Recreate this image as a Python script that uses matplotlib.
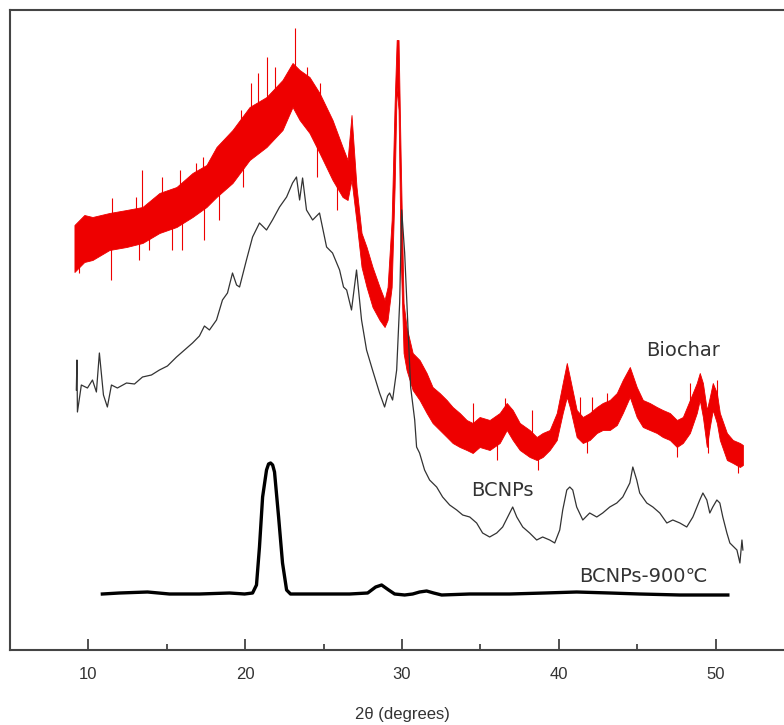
import numpy as np
import matplotlib
matplotlib.use('Agg')
from matplotlib import pyplot as plt
from matplotlib.ticker import MultipleLocator

# --- Biochar (red, noisy pattern): dense core band of the trace ---
biochar_x = [9.11, 9.74, 10.26, 11.34, 12.43, 13.45, 14.53, 15.62, 16.64, 17.53,
             18.17, 19.19, 20.28, 21.36, 22.38, 23.02, 23.47, 24.10, 24.74, 25.57,
             26.21, 26.53, 26.78, 27.10, 27.42, 27.74, 28.12, 28.57, 28.89, 29.08,
             29.34, 29.53, 29.66, 29.78, 29.91, 30.10, 30.29, 30.68, 31.12, 31.57,
             31.95, 32.40, 32.85, 33.23, 33.68, 34.12, 34.51, 34.95, 35.59, 36.23,
             36.68, 37.06, 37.51, 38.14, 38.59, 38.97, 39.42, 39.87, 40.25, 40.51,
             40.70, 41.14, 41.53, 41.97, 42.42, 42.80, 43.25, 43.70, 44.08, 44.53,
             44.97, 45.36, 45.80, 46.25, 46.63, 47.08, 47.53, 47.91, 48.36, 48.80,
             48.99, 49.19, 49.44, 49.63, 49.82, 50.08, 50.27, 50.72, 51.10, 51.55, 51.74]
biochar_hi = [425, 435, 433, 437, 440, 443, 457, 463, 477, 485,
              503, 520, 543, 553, 570, 587, 580, 573, 557, 530,
              503, 490, 535, 463, 417, 403, 383, 363, 350, 363,
              430, 547, 610, 610, 497, 347, 323, 297, 290, 277,
              263, 257, 250, 243, 237, 230, 227, 233, 230, 237,
              247, 240, 227, 220, 213, 217, 220, 237, 267, 287,
              273, 240, 233, 237, 243, 247, 250, 257, 270, 283,
              263, 250, 247, 243, 240, 237, 230, 233, 250, 267,
              277, 267, 240, 253, 267, 257, 237, 217, 210, 207, 205]
biochar_lo = [378, 388, 390, 400, 403, 407, 417, 423, 433, 443,
              453, 467, 490, 503, 520, 543, 530, 517, 497, 470,
              453, 450, 470, 428, 383, 363, 343, 330, 323, 330,
              363, 463, 563, 540, 397, 297, 280, 260, 250, 237,
              227, 220, 213, 207, 203, 200, 197, 203, 200, 207,
              220, 210, 200, 193, 190, 193, 200, 210, 237, 253,
              243, 213, 207, 210, 217, 220, 220, 225, 237, 253,
              233, 223, 220, 217, 213, 210, 203, 207, 217, 237,
              250, 233, 203, 223, 240, 227, 210, 190, 187, 183, 185]

# single counts sticking out of the band (position, start, end)
spike_x = [11.53, 13.06, 13.45, 14.72, 15.81, 16.89, 17.28, 19.76, 20.40, 20.79,
           21.36, 21.87, 23.15, 23.91, 24.74, 34.51, 36.55, 38.27, 41.33, 42.10,
           43.06, 48.36, 50.08,
           9.43, 11.47, 13.25, 13.89, 15.36, 16.00, 17.40, 18.36, 19.83, 24.55,
           25.83, 36.04, 38.65, 41.78, 47.53, 49.50, 51.42]
spike_from = [420, 425, 425, 440, 445, 455, 465, 510, 515, 525,
              530, 540, 560, 550, 530, 210, 230, 205, 225, 225,
              235, 235, 240,
              400, 420, 425, 425, 440, 445, 465, 475, 495, 525,
              485, 220, 205, 220, 215, 220, 195]
spike_to = [452, 453, 480, 473, 480, 487, 493, 540, 567, 577,
            593, 583, 622, 583, 567, 247, 252, 240, 253, 253,
            257, 267, 270,
            377, 370, 390, 400, 400, 400, 410, 430, 463, 473,
            440, 190, 180, 197, 193, 197, 177]

# --- BCNPs (thin dark trace) ---
bcnps_x = [9.23, 9.27, 9.30, 9.55, 9.94, 10.26, 10.51, 10.70, 10.96, 11.21,
           11.47, 11.85, 12.43, 12.94, 13.45, 14.02, 14.53, 15.04, 15.62, 16.13,
           16.64, 17.08, 17.40, 17.72, 18.17, 18.55, 18.87, 19.19, 19.45, 19.64,
           20.08, 20.47, 20.91, 21.36, 21.74, 22.19, 22.64, 23.02, 23.27, 23.47,
           23.66, 23.91, 24.30, 24.74, 25.19, 25.57, 26.02, 26.27, 26.47, 26.78,
           27.10, 27.42, 27.74, 28.12, 28.57, 28.89, 29.08, 29.21, 29.40, 29.66,
           29.85, 29.98, 30.17, 30.36, 30.55, 30.81, 30.93, 31.12, 31.44, 31.76,
           32.21, 32.59, 33.04, 33.49, 33.87, 34.32, 34.76, 35.14, 35.59, 36.04,
           36.42, 36.87, 37.06, 37.32, 37.70, 38.14, 38.59, 38.97, 39.42, 39.74,
           40.06, 40.25, 40.51, 40.70, 40.89, 41.14, 41.53, 41.97, 42.42, 42.80,
           43.25, 43.70, 44.08, 44.53, 44.72, 44.97, 45.16, 45.61, 46.00, 46.44,
           46.89, 47.27, 47.72, 48.16, 48.55, 48.99, 49.19, 49.44, 49.63, 49.82,
           50.08, 50.27, 50.46, 50.72, 50.91, 51.36, 51.55, 51.68, 51.74]
bcnps_y = [260, 290, 238, 265, 262, 270, 258, 297, 255, 243,
           265, 262, 267, 266, 273, 275, 280, 284, 293, 300,
           307, 314, 324, 320, 330, 350, 357, 377, 365, 363,
           390, 413, 427, 420, 430, 443, 453, 467, 473, 450,
           472, 440, 430, 437, 403, 397, 380, 363, 360, 340,
           380, 330, 300, 280, 257, 243, 254, 257, 250, 280,
           347, 440, 397, 330, 263, 230, 203, 197, 180, 170,
           163, 153, 145, 140, 135, 133, 127, 117, 113, 117,
           123, 137, 143, 133, 123, 117, 110, 113, 110, 107,
           120, 140, 160, 163, 160, 143, 130, 137, 133, 137,
           143, 147, 153, 167, 183, 170, 157, 147, 143, 137,
           127, 130, 127, 123, 133, 150, 157, 150, 137, 143,
           150, 147, 133, 117, 107, 100, 87, 110, 100]

# --- BCNPs-900°C (thick black trace) ---
b900_x = [10.89, 11.98, 13.77, 15.17, 17.08, 19.00, 19.96, 20.47, 20.72, 20.91,
          21.11, 21.36, 21.49, 21.62, 21.75, 21.87, 22.13, 22.38, 22.64, 22.89,
          24.74, 26.66, 27.81, 28.32, 28.70, 29.15, 29.53, 30.17, 30.68, 31.12,
          31.57, 32.02, 32.53, 34.32, 36.87, 39.10, 41.14, 43.25, 45.16, 47.72,
          49.63, 50.78]
b900_y = [56, 57, 58, 56, 56, 57, 56, 57, 65, 103,
          153, 180, 186, 187, 185, 178, 133, 87, 60, 56,
          56, 56, 57, 63, 65, 60, 56, 55, 56, 58,
          59, 57, 55, 56, 56, 57, 58, 57, 56, 55,
          55, 55]

fig = plt.figure(figsize=(7.84, 7.25), dpi=100)
ax = fig.add_axes([10 / 784, 75 / 725, 1.0, 640 / 725])

red = '#ee0000'
ax.fill_between(biochar_x, biochar_lo, biochar_hi, color=red, lw=0.6, zorder=3)
ax.vlines(spike_x, spike_from, spike_to, color=red, lw=0.8, zorder=3)
ax.plot(bcnps_x, bcnps_y, color='#333333', lw=0.9, zorder=4)
ax.plot(b900_x, b900_y, color='black', lw=2.4, zorder=4)

txt = dict(color='#333333', fontsize=14, family='DejaVu Sans', ha='center', va='center')
ax.text(47.9, 300, 'Biochar', **txt)
ax.text(36.4, 160, 'BCNPs', **txt)
ax.text(45.4, 73, 'BCNPs-900\u2103', **txt)

ax.set_xlim(5, 55)
ax.set_ylim(0, 640)
ax.xaxis.set_major_locator(MultipleLocator(10))
ax.xaxis.set_minor_locator(MultipleLocator(5))
ax.tick_params(axis='x', which='major', direction='in', length=8, width=1.2,
               colors='#333333', labelsize=12, pad=12)
ax.tick_params(axis='x', which='minor', direction='in', length=4, width=1.2, colors='#333333')
ax.set_yticks([])
for lab in ax.get_xticklabels():
    lab.set_family('Liberation Sans')
for s in ax.spines.values():
    s.set_color('#444444')
    s.set_linewidth(1.5)
ax.set_xlabel('2\u03b8 (degrees)', fontsize=12, family='Liberation Sans',
              color='#333333', labelpad=18)

fig.savefig('out.png', dpi=100)
